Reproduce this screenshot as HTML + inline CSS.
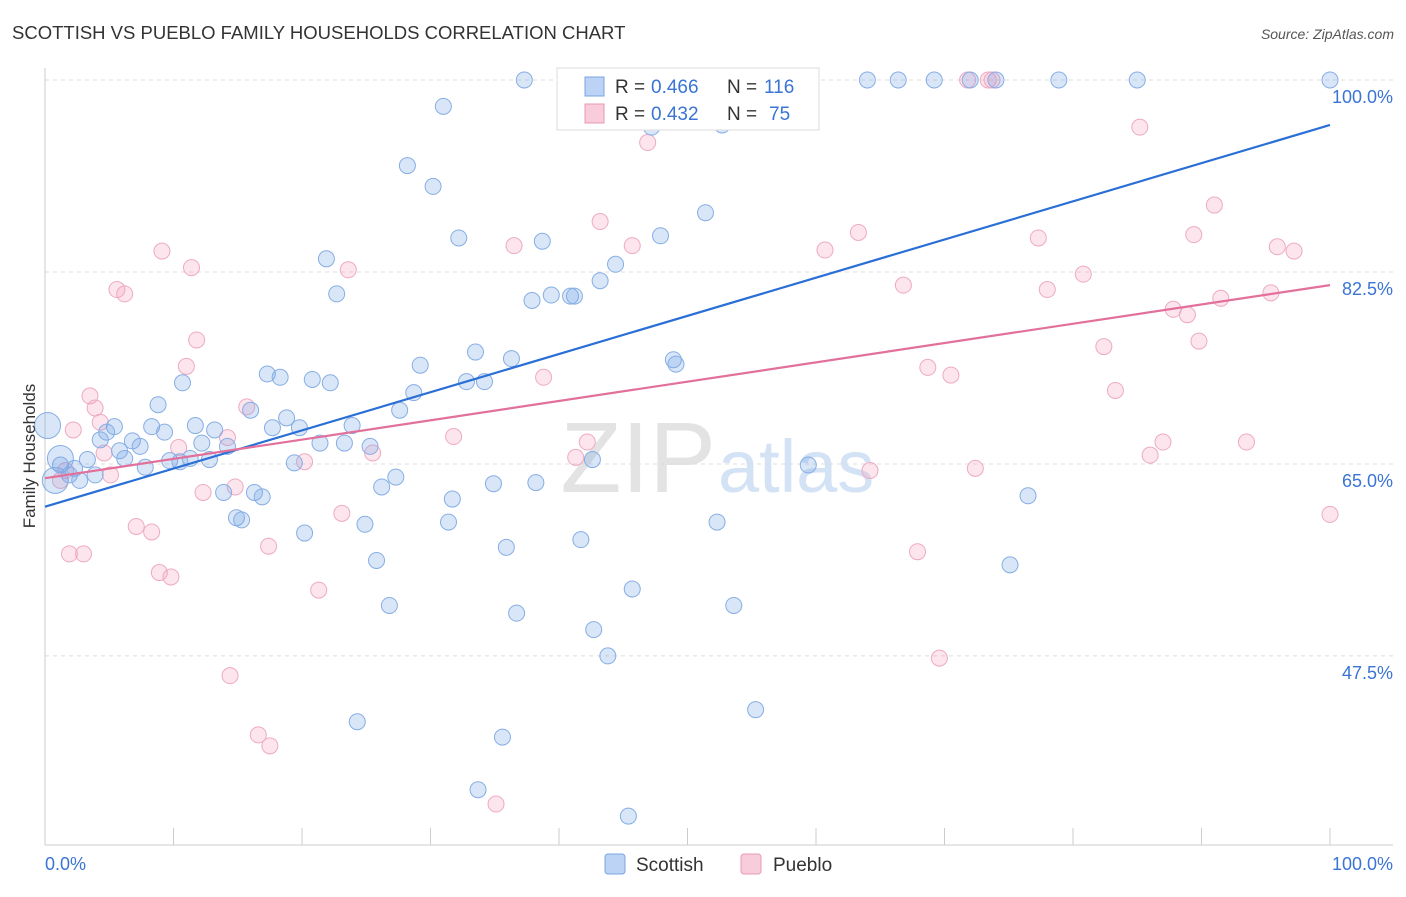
<!DOCTYPE html>
<html><head><meta charset="utf-8"><style>
body{margin:0;background:#fff;font-family:"Liberation Sans",sans-serif}
svg text{font-family:"Liberation Sans",sans-serif}
</style></head><body>
<svg id="chart" width="1406" height="892">
<text x="12" y="39" font-size="18.5" fill="#333">SCOTTISH VS PUEBLO FAMILY HOUSEHOLDS CORRELATION CHART</text>
<text x="1394" y="39" font-size="14" fill="#555" font-style="italic" text-anchor="end">Source: ZipAtlas.com</text>
<text x="716" y="492" font-size="100" fill="#e3e3e3" text-anchor="end" font-family="Liberation Serif">ZIP</text>
<text x="718" y="492" font-size="74" fill="#d3e2f4">atlas</text>
<g id="grid"></g>
<g id="axes"></g>
<g id="pts"></g>
<g id="lines"></g>
<text transform="translate(35,456) rotate(-90)" font-size="17" fill="#333" text-anchor="middle">Family Households</text>
<g>
<rect x="557" y="68" width="262" height="62" fill="#fff" stroke="#ddd"/>
<rect x="585" y="77" width="19" height="19" fill="#bcd3f5" stroke="#7aa4e0"/>
<text x="615" y="93" font-size="19" fill="#333">R =</text>
<text x="651" y="93" font-size="19" fill="#3a74d4">0.466</text>
<text x="727" y="93" font-size="19" fill="#333">N =</text>
<text x="764" y="93" font-size="19" fill="#3a74d4">116</text>
<rect x="585" y="104" width="19" height="19" fill="#f9ccdb" stroke="#e899b3"/>
<text x="615" y="120" font-size="19" fill="#333">R =</text>
<text x="651" y="120" font-size="19" fill="#3a74d4">0.432</text>
<text x="727" y="120" font-size="19" fill="#333">N =</text>
<text x="769" y="120" font-size="19" fill="#3a74d4">75</text>
</g>
<g>
<rect x="605" y="854" width="20" height="20" rx="3" fill="#bcd3f5" stroke="#7aa4e0"/>
<text x="636" y="871" font-size="19" fill="#333">Scottish</text>
<rect x="741" y="854" width="20" height="20" rx="3" fill="#f9ccdb" stroke="#e899b3"/>
<text x="773" y="871" font-size="19" fill="#333">Pueblo</text>
</g>
</svg>
<script>
const yTicks=[100,82.5,65,47.5];
const yTickLabels=["100.0%","82.5%","65.0%","47.5%"];
const xEndLabels=["0.0%","100.0%"];
const scotX=[37.3,51.8,57.6,58.8,64.0,66.4,69.2,72.0,74.0,78.9,85.0,100,31.0,47.2,52.7,28.2,30.2,51.4,32.2,38.7,47.9,21.9,44.4,43.2,22.7,39.4,37.9,40.9,41.2,33.5,36.3,29.2,48.9,49.1,17.3,18.3,10.7,20.8,22.2,32.8,34.2,28.7,8.8,27.6,16.0,18.8,11.7,8.3,23.9,17.7,19.8,5.4,9.3,13.2,4.8,4.3,6.8,7.4,5.8,21.4,23.3,25.3,12.2,14.2,11.3,12.8,9.7,10.5,6.2,3.3,1.2,2.3,1.9,3.9,2.7,7.8,19.4,42.6,59.4,27.3,26.2,13.9,16.3,16.9,31.7,34.9,38.2,76.5,14.9,15.3,24.9,31.4,52.3,20.2,41.7,35.9,25.8,75.1,45.7,26.8,36.7,53.6,42.7,43.8,55.3,24.3,35.6,33.7,45.4];
const scotY=[100,100,100,100,100,100,100,100,100,100,100,100,97.6,95.7,95.9,92.2,90.3,87.9,85.6,85.3,85.8,83.7,83.2,81.7,80.5,80.4,79.9,80.3,80.3,75.2,74.6,74.0,74.5,74.1,73.2,72.9,72.4,72.7,72.4,72.5,72.5,71.5,70.4,69.9,69.9,69.2,68.5,68.4,68.5,68.3,68.3,68.4,67.9,68.1,67.9,67.2,67.1,66.6,66.2,66.9,66.9,66.6,66.9,66.6,65.5,65.4,65.3,65.2,65.5,65.4,64.9,64.6,64.0,64.0,63.5,64.7,65.1,65.4,64.9,63.8,62.9,62.4,62.4,62.0,61.8,63.2,63.3,62.1,60.1,59.9,59.5,59.7,59.7,58.7,58.1,57.4,56.2,55.8,53.6,52.1,51.4,52.1,49.9,47.5,42.6,41.5,40.1,35.3,32.9];
const scotBigX=[0.2,0.8,1.2];
const scotBigY=[68.5,63.5,65.5];
const puebX=[47.9,59.5,71.8,73.4,73.7,85.2,46.9,43.2,91.0,36.5,45.7,63.3,60.7,77.3,89.4,95.9,97.2,9.1,11.4,23.6,80.8,5.6,6.2,66.8,78.0,87.8,88.9,91.5,95.4,11.8,82.4,89.8,11.0,68.7,70.5,38.8,83.3,3.5,3.9,15.7,4.3,2.2,14.2,31.8,10.4,4.6,25.5,41.3,42.2,87.0,93.5,86.0,20.2,72.4,64.2,5.1,1.2,1.6,14.8,12.3,23.1,100,7.1,8.3,1.9,3.0,17.4,67.9,8.9,9.8,21.3,14.4,69.6,16.6,17.5,35.1];
const puebY=[100,100,100,100,100,95.7,94.3,87.1,88.6,84.9,84.9,86.1,84.5,85.6,85.9,84.8,84.4,84.4,82.9,82.7,82.3,80.9,80.5,81.3,80.9,79.1,78.6,80.1,80.6,76.3,75.7,76.2,73.9,73.8,73.1,72.9,71.7,71.2,70.1,70.2,68.8,68.1,67.4,67.5,66.5,66.0,66.0,65.6,67.0,67.0,67.0,65.8,65.2,64.6,64.4,64.0,63.5,64.4,62.9,62.4,60.5,60.4,59.3,58.8,56.8,56.8,57.5,57.0,55.1,54.7,53.5,45.7,47.3,40.3,39.3,34.0];
const scotLine=[61.1,95.9];
const puebLine=[63.7,81.3];
const X=v=>45+v*12.85;
const Y=v=>80+(100-v)*10.97;
const NS="http://www.w3.org/2000/svg";
function mk(tag,attrs,parent){const e=document.createElementNS(NS,tag);for(const k in attrs)e.setAttribute(k,attrs[k]);document.getElementById(parent).appendChild(e);return e;}
yTicks.forEach((t,i)=>{
 const l=mk('line',{x1:45,x2:1393,y1:Y(t),y2:Y(t),stroke:'#dcdcdc','stroke-dasharray':'4,4'},'grid');
 
 
 const tx=mk('text',{x:1393,y:Y(t)+23,'font-size':18,fill:'#3a74d4','text-anchor':'end'},'grid');
 tx.textContent=yTickLabels[i];
 
 
});
const ax=mk('line',{x1:45,x2:45,y1:68,y2:845,stroke:'#ccc'},'axes');


const bx=mk('line',{x1:45,x2:1393,y1:845,y2:845,stroke:'#ccc'},'axes');


for(let i=0;i<=10;i++){
 const t=mk('line',{x1:X(i*10),x2:X(i*10),y1:828,y2:845,stroke:'#ccc'},'axes');
 
 
}
[[0,'start'],[100,'end']].forEach((p,i)=>{
 const t=mk('text',{x:i?1393:45,y:870,'font-size':18,fill:'#3a74d4','text-anchor':p[1]},'axes');
 t.textContent=xEndLabels[i];
 
 
});
function dots(xs,ys,r,fill,stroke,name){
 xs.forEach((x,i)=>{
  const c=mk('circle',{cx:X(x),cy:Y(ys[i]),r:r,fill:fill,stroke:stroke,'stroke-width':1},'pts');
  
  
 });
}
dots(puebX,puebY,8,'rgba(244,160,190,0.28)','#eeaac2','pueblo-point');
dots(scotX,scotY,8,'rgba(120,165,230,0.28)','#86aee4','scottish-point');
dots(scotBigX,scotBigY,13,'rgba(120,165,230,0.28)','#86aee4','scottish-point-large');
const l1=mk('line',{x1:X(0),y1:Y(scotLine[0]),x2:X(100),y2:Y(scotLine[1]),stroke:'#2a6fd6','stroke-width':2.2},'lines');


const l2=mk('line',{x1:X(0),y1:Y(puebLine[0]),x2:X(100),y2:Y(puebLine[1]),stroke:'#e2709a','stroke-width':2.2},'lines');


</script>
</body></html>
